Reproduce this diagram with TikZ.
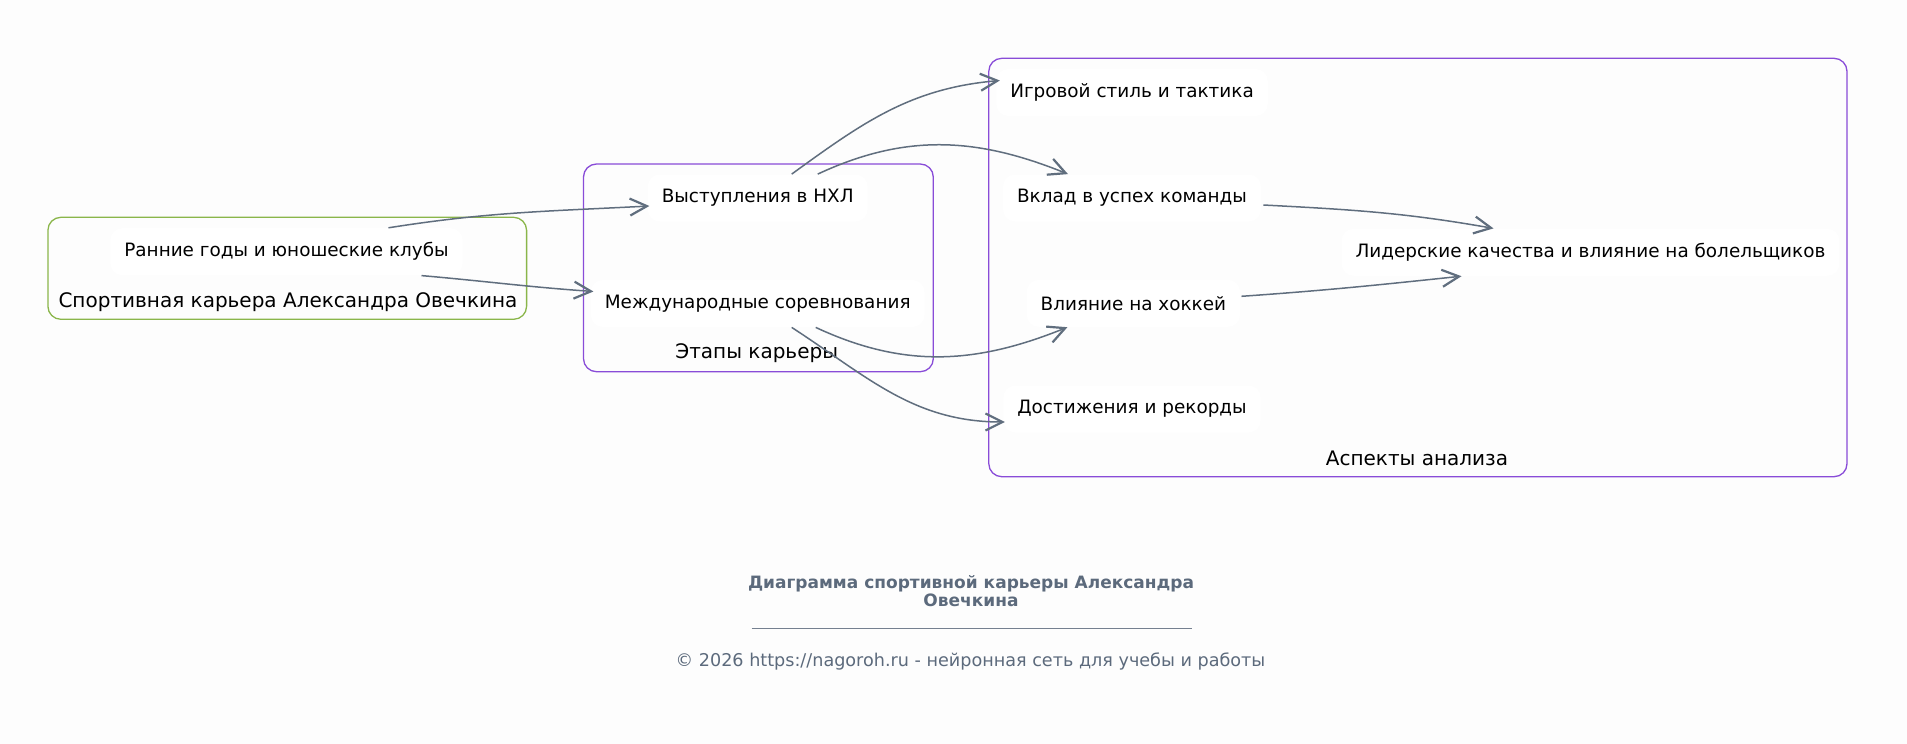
\documentclass[tikz,border=0pt]{standalone}
\usepackage{fontspec}
\setmainfont{DejaVu Sans}
\usetikzlibrary{arrows.meta,calc}
\definecolor{edgegray}{RGB}{96,110,126}
\definecolor{grpviolet}{RGB}{137,76,216}
\definecolor{grpgreen}{RGB}{138,182,74}
\definecolor{titlegray}{RGB}{92,106,124}
\definecolor{paper}{RGB}{253,253,253}

\begin{document}
\begin{tikzpicture}[
  x=0.5pt, y=0.5pt,
  font=\fontsize{9.2}{11}\selectfont,
  item/.style={rectangle, fill=white, rounded corners=6pt, minimum height=23.5pt,
               inner xsep=7pt, inner ysep=0pt, align=center},
  grp/.style={rectangle, draw=grpviolet, line width=0.65pt, rounded corners=6.5pt,
              inner sep=0pt, outer sep=0pt},
  grplabel/.style={font=\fontsize{10}{12}\selectfont, inner sep=0pt},
  arr/.style={-{Straight Barb[length=8.5pt, width=8.5pt, line width=1.1pt]}, draw=edgegray, line width=0.75pt},
  foot/.style={text=titlegray, inner sep=0pt, align=center}
]
  \fill[paper] (0,0) rectangle (1907,-744);
  \useasboundingbox (0,0) rectangle (1907,-744);

  \node[grp, draw=grpgreen, minimum width=239.35pt, minimum height=51pt] (career) at (287.25,-268.3) {};
  \node[grp, minimum width=174.9pt, minimum height=103.85pt] (stages) at (758.4,-267.85) {};
  \node[grp, minimum width=429.1pt, minimum height=209.2pt] (aspects) at (1417.9,-267.5) {};

  \node[grplabel] (careerlbl)  at (288,-301.7)   {Спортивная карьера Александра Овечкина};
  \node[grplabel] (stageslbl)  at (756.7,-353.3) {Этапы карьеры};
  \node[grplabel] (aspectslbl) at (1417,-458.3)  {Аспекты анализа};

  \node[item] (ranniye)  at (286.5,-251.7)  {Ранние годы и юношеские клубы};
  \node[item] (vystup)   at (757.7,-198)    {Выступления в НХЛ};
  \node[item] (mezhd)    at (757.7,-303.5)  {Международные соревнования};
  \node[item] (igrovoy)  at (1132,-92.5)    {Игровой стиль и тактика};
  \node[item] (vklad)    at (1132,-198)     {Вклад в успех команды};
  \node[item] (lider)    at (1590.5,-252.3) {Лидерские качества и влияние на болельщиков};
  \node[item] (vliyanie) at (1133.4,-303.3) {Влияние на хоккей};
  \node[item] (dostizh)  at (1132,-409)     {Достижения и рекорды};

  \draw[arr] ($(ranniye.north)+(102,0)$) to[out=9,in=183] ($(vystup.west)+(2,-8)$);
  \draw[arr] ($(ranniye.south)+(135,0)$) to[out=-5,in=176] ($(mezhd.west)+(3,12)$);
  \draw[arr] ($(vystup.north)+(34,0)$) to[out=36,in=185] ($(igrovoy.west)+(4,12)$);
  \draw[arr] ($(vystup.north)+(60,0)$) to[out=25,in=158] ($(vklad.north)+(-64,0)$);
  \draw[arr] ($(mezhd.south)+(58,0)$) to[out=-25,in=202] ($(vliyanie.south)+(-66,0)$);
  \draw[arr] ($(mezhd.south)+(34,0)$) to[out=-33,in=180] ($(dostizh.west)+(2,-13)$);
  \draw[arr] ($(vklad.east)+(2,-7)$) to[out=-3,in=170] ($(lider.north)+(-97,0)$);
  \draw[arr] ($(vliyanie.east)+(1,7)$) to[out=4,in=186] ($(lider.south)+(-129,0)$);

  \node[foot, font=\bfseries\fontsize{8.5}{8.7}\selectfont] (title) at (971,-591)
    {Диаграмма спортивной карьеры Александра\\Овечкина};
  \coordinate (ruleL) at (751.6,-628);
  \coordinate (ruleR) at (1191.8,-628);
  \draw[titlegray!85, line width=0.45pt] (ruleL) -- (ruleR);
  \node[foot, font=\fontsize{8.8}{10.5}\selectfont] (copy) at (970.5,-661)
    {© 2026 https://nagoroh.ru - нейронная сеть для учебы и работы};
\end{tikzpicture}
\end{document}
